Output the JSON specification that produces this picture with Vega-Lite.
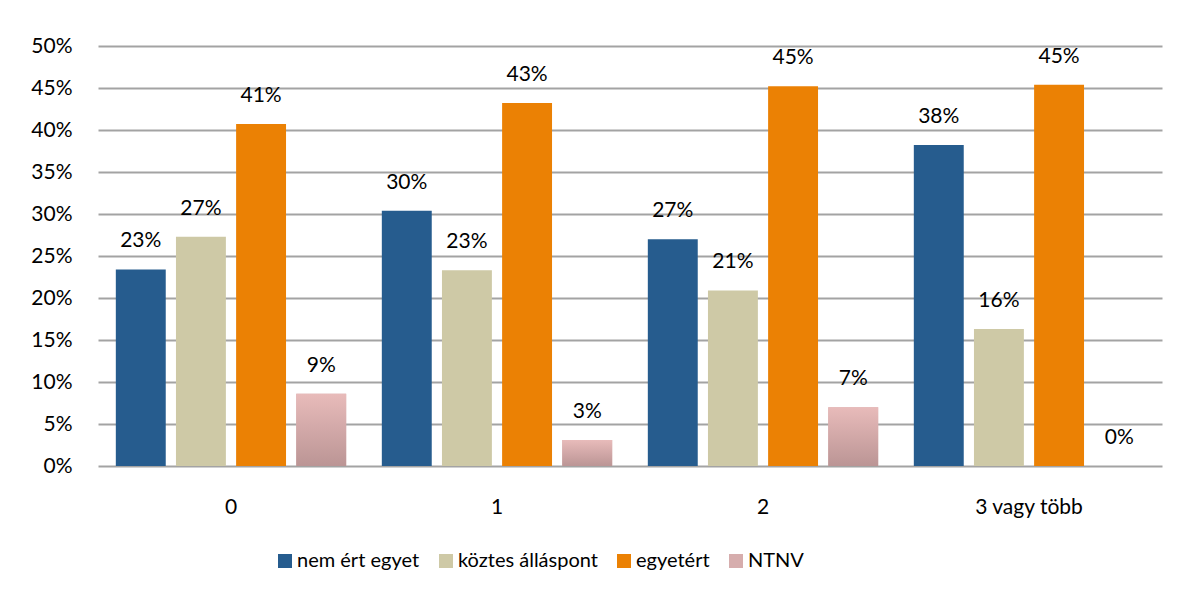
{
  "$schema": "https://vega.github.io/schema/vega-lite/v6.json",
  "autosize": "none",
  "width": 1064,
  "height": 420,
  "padding": {"left": 98, "top": 46, "right": 26, "bottom": 134},
  "background": "white",
  "config": {
    "font": "Lato",
    "view": {"stroke": null},
    "axis": {"labelFont": "Lato", "labelFontSize": 21, "labelColor": "#000000", "titleFontSize": 21}
  },
  "data": {
    "values": [
      {"g": "0", "cat": "nem ért egyet", "v": 0.234},
      {"g": "0", "cat": "köztes álláspont", "v": 0.273},
      {"g": "0", "cat": "egyetért", "v": 0.407},
      {"g": "0", "cat": "NTNV", "v": 0.086},
      {"g": "1", "cat": "nem ért egyet", "v": 0.304},
      {"g": "1", "cat": "köztes álláspont", "v": 0.233},
      {"g": "1", "cat": "egyetért", "v": 0.432},
      {"g": "1", "cat": "NTNV", "v": 0.031},
      {"g": "2", "cat": "nem ért egyet", "v": 0.270},
      {"g": "2", "cat": "köztes álláspont", "v": 0.209},
      {"g": "2", "cat": "egyetért", "v": 0.452},
      {"g": "2", "cat": "NTNV", "v": 0.070},
      {"g": "3 vagy több", "cat": "nem ért egyet", "v": 0.382},
      {"g": "3 vagy több", "cat": "köztes álláspont", "v": 0.163},
      {"g": "3 vagy több", "cat": "egyetért", "v": 0.454},
      {"g": "3 vagy több", "cat": "NTNV", "v": 0.0}
    ]
  },
  "encoding": {
    "x": {
      "field": "g", "type": "nominal", "sort": null,
      "scale": {"paddingInner": 0.134, "paddingOuter": 0.067},
      "axis": {"title": null, "labelAngle": 0, "ticks": false, "domain": false, "labelPadding": 30}
    },
    "xOffset": {
      "field": "cat", "type": "nominal",
      "sort": ["nem ért egyet", "köztes álláspont", "egyetért", "NTNV"],
      "scale": {"paddingInner": 0.17, "paddingOuter": 0}
    },
    "y": {
      "field": "v", "type": "quantitative",
      "scale": {"domain": [0, 0.5], "nice": false},
      "axis": {
        "title": null, "format": ".0%", "values": [0, 0.05, 0.1, 0.15, 0.2, 0.25, 0.3, 0.35, 0.4, 0.45, 0.5],
        "domain": false, "ticks": false, "labelPadding": 26,
        "grid": true, "gridColor": "#A3A3A3", "gridWidth": 2
      }
    }
  },
  "layer": [
    {
      "mark": {"type": "bar"},
      "encoding": {
        "color": {
          "field": "cat", "type": "nominal",
          "scale": {
            "domain": ["nem ért egyet", "köztes álláspont", "egyetért", "NTNV"],
            "range": ["#265C8E", "#CEC9A6", "#EB8104", "#D6ADAD"]
          },
          "legend": {
            "title": null, "orient": "none", "direction": "horizontal",
            "legendX": 177, "legendY": 505,
            "symbolType": "square", "symbolSize": 196, "symbolStrokeWidth": 0,
            "labelFont": "Lato", "labelFontSize": 20, "labelColor": "#000000",
            "labelOffset": 2, "columnPadding": 16
          }
        }
      }
    },
    {
      "transform": [{"filter": "datum.cat == 'NTNV'"}],
      "mark": {
        "type": "bar",
        "color": {
          "gradient": "linear", "x1": 0, "y1": 0, "x2": 0, "y2": 1,
          "stops": [{"offset": 0, "color": "#E8BBBA"}, {"offset": 1, "color": "#BB9595"}]
        }
      }
    },
    {
      "mark": {"type": "text", "baseline": "middle", "dy": -28, "fontSize": 21, "font": "Lato", "color": "#000000"},
      "encoding": {
        "text": {"field": "v", "type": "quantitative", "format": ".0%"}
      }
    }
  ]
}
